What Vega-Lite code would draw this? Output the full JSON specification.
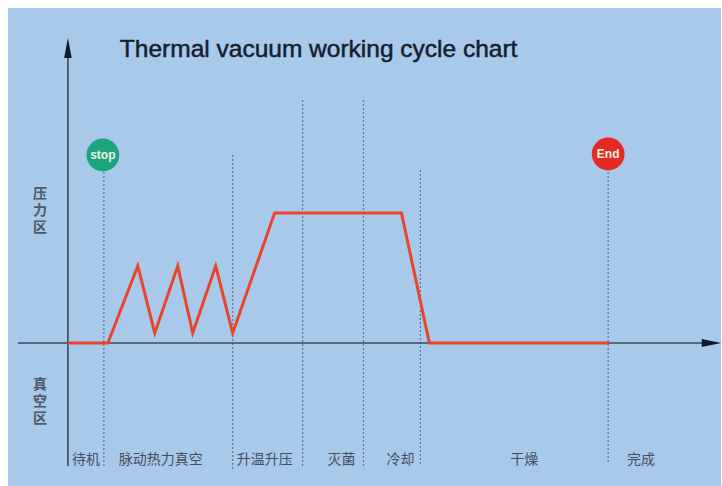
{
  "$schema": "https://vega.github.io/schema/vega-lite/v6.json",
  "width": 722,
  "height": 486,
  "autosize": {"type": "fit", "contains": "padding"},
  "padding": {"left": 8, "top": 8, "right": 0, "bottom": 0},
  "background": "#ffffff",
  "config": {"view": {"fill": "#a9c9eb", "stroke": null}},
  "datasets": {
    "curve": [
      {"i": 0, "t": 0, "p": 0},
      {"i": 1, "t": 4, "p": 0},
      {"i": 2, "t": 7, "p": 0.77},
      {"i": 3, "t": 8.7, "p": 0.1},
      {"i": 4, "t": 11, "p": 0.77},
      {"i": 5, "t": 12.5, "p": 0.1},
      {"i": 6, "t": 14.8, "p": 0.77},
      {"i": 7, "t": 16.5, "p": 0.1},
      {"i": 8, "t": 20.7, "p": 1.3},
      {"i": 9, "t": 33.4, "p": 1.3},
      {"i": 10, "t": 36.2, "p": 0},
      {"i": 11, "t": 54.2, "p": 0}
    ],
    "dividers": [
      {"t": 3.6, "top": 1.71, "bottom": -1.23},
      {"t": 16.5, "top": 1.88, "bottom": -1.27},
      {"t": 23.5, "top": 2.43, "bottom": -1.23},
      {"t": 29.6, "top": 2.43, "bottom": -1.23},
      {"t": 35.3, "top": 1.73, "bottom": -1.23},
      {"t": 54.1, "top": 1.71, "bottom": -1.2}
    ],
    "axesV": [{"t": 0, "top": 2.9, "bottom": -1.23}],
    "axesH": [{"t1": -5, "t2": 64, "p": 0}],
    "arrowUp": [{"t": 0, "p": 2.95}],
    "arrowRight": [{"t": 64.45, "p": 0}],
    "badges": [
      {"t": 3.5, "p": 1.88, "label": "stop", "kind": "start"},
      {"t": 54.1, "p": 1.89, "label": "End", "kind": "end"}
    ],
    "titleRow": [{"t": 5.2, "p": 2.86, "label": "Thermal vacuum working cycle chart"}],
    "zones": [
      {"t": -2.8, "p": 1.49, "label": "压\n力\n区"},
      {"t": -2.8, "p": -0.42, "label": "真\n空\n区"}
    ],
    "phases": [
      {"t": 1.8, "label": "待机"},
      {"t": 9.3, "label": "脉动热力真空"},
      {"t": 19.7, "label": "升温升压"},
      {"t": 27.4, "label": "灭菌"},
      {"t": 33.3, "label": "冷却"},
      {"t": 45.7, "label": "干燥"},
      {"t": 57.4, "label": "完成"}
    ]
  },
  "layer": [
    {
      "data": {"name": "dividers"},
      "mark": {"type": "rule", "color": "#5d7590", "strokeWidth": 1.2, "strokeDash": [2, 2]},
      "encoding": {
        "x": {"field": "t", "type": "quantitative", "scale": {"domain": [-6, 65.4], "nice": false, "zero": false}, "axis": null},
        "y": {"field": "top", "type": "quantitative", "scale": {"domain": [-1.43, 3.35], "nice": false, "zero": false}, "axis": null},
        "y2": {"field": "bottom"}
      }
    },
    {
      "data": {"name": "axesV"},
      "mark": {"type": "rule", "color": "#3b4a5e", "strokeWidth": 1.6},
      "encoding": {
        "x": {"field": "t", "type": "quantitative"},
        "y": {"field": "top", "type": "quantitative"},
        "y2": {"field": "bottom"}
      }
    },
    {
      "data": {"name": "axesH"},
      "mark": {"type": "rule", "color": "#3b4a5e", "strokeWidth": 1.6},
      "encoding": {
        "x": {"field": "t1", "type": "quantitative"},
        "x2": {"field": "t2"},
        "y": {"field": "p", "type": "quantitative"}
      }
    },
    {
      "data": {"name": "arrowUp"},
      "mark": {"type": "point", "filled": true, "color": "#111a28", "opacity": 1, "shape": "M0,-1L0.38,1L-0.38,1Z", "size": 400},
      "encoding": {
        "x": {"field": "t", "type": "quantitative"},
        "y": {"field": "p", "type": "quantitative"}
      }
    },
    {
      "data": {"name": "arrowRight"},
      "mark": {"type": "point", "filled": true, "color": "#111a28", "opacity": 1, "shape": "M1,0L-1,-0.4L-1,0.4Z", "size": 380},
      "encoding": {
        "x": {"field": "t", "type": "quantitative"},
        "y": {"field": "p", "type": "quantitative"}
      }
    },
    {
      "data": {"name": "curve"},
      "mark": {"type": "line", "color": "#e8452c", "strokeWidth": 3, "strokeJoin": "miter"},
      "encoding": {
        "x": {"field": "t", "type": "quantitative"},
        "y": {"field": "p", "type": "quantitative"},
        "order": {"field": "i", "type": "quantitative"}
      }
    },
    {
      "data": {"name": "badges"},
      "mark": {"type": "point", "filled": true, "opacity": 1, "shape": "circle", "size": 1075},
      "encoding": {
        "x": {"field": "t", "type": "quantitative"},
        "y": {"field": "p", "type": "quantitative"},
        "color": {"field": "kind", "type": "nominal", "scale": {"domain": ["start", "end"], "range": ["#1ba57c", "#e62a22"]}, "legend": null}
      }
    },
    {
      "data": {"name": "badges"},
      "mark": {"type": "text", "color": "#f2f2e6", "font": "Liberation Sans", "fontSize": 12, "fontWeight": "bold", "align": "center", "baseline": "middle"},
      "encoding": {
        "x": {"field": "t", "type": "quantitative"},
        "y": {"field": "p", "type": "quantitative"},
        "text": {"field": "label", "type": "nominal"}
      }
    },
    {
      "data": {"name": "titleRow"},
      "mark": {"type": "text", "color": "#14202e", "stroke": "#14202e", "strokeWidth": 0.5, "font": "Liberation Sans", "fontSize": 24.5, "align": "left", "baseline": "alphabetic"},
      "encoding": {
        "x": {"field": "t", "type": "quantitative"},
        "y": {"field": "p", "type": "quantitative"},
        "text": {"field": "label", "type": "nominal"}
      }
    },
    {
      "data": {"name": "zones"},
      "mark": {"type": "text", "color": "#505866", "font": "Noto Sans CJK SC", "fontSize": 14, "fontWeight": "bold", "lineBreak": "\n", "lineHeight": 17, "align": "center", "baseline": "middle"},
      "encoding": {
        "x": {"field": "t", "type": "quantitative"},
        "y": {"field": "p", "type": "quantitative"},
        "text": {"field": "label", "type": "nominal"}
      }
    },
    {
      "data": {"name": "phases"},
      "mark": {"type": "text", "color": "#464e5c", "font": "Noto Sans CJK SC", "fontSize": 14, "align": "center", "baseline": "middle"},
      "encoding": {
        "x": {"field": "t", "type": "quantitative"},
        "y": {"datum": -1.17, "type": "quantitative"},
        "text": {"field": "label", "type": "nominal"}
      }
    }
  ]
}
